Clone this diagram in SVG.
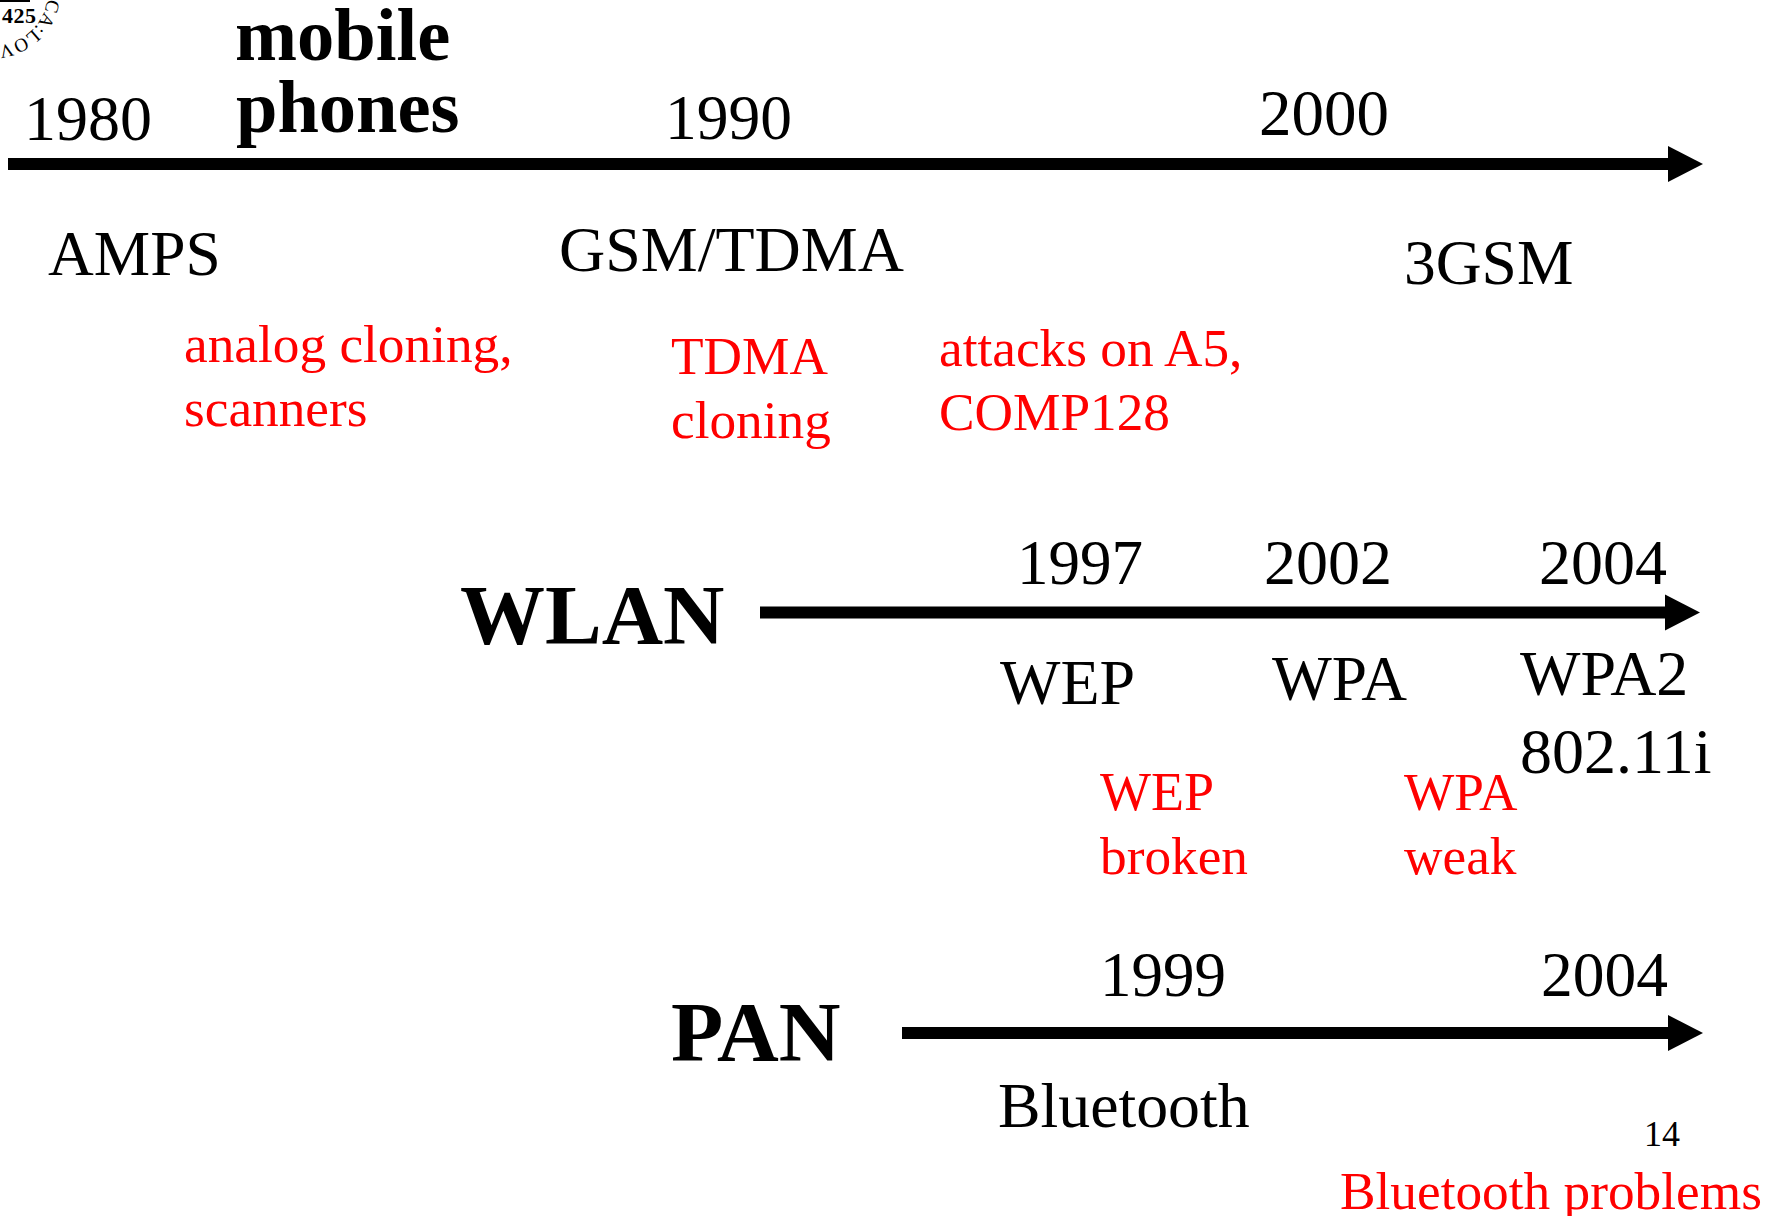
<svg xmlns="http://www.w3.org/2000/svg" width="1781" height="1216" viewBox="0 0 1781 1216">
<defs>
<style>
text{font-family:"Liberation Serif","Times New Roman",serif;fill:#000}
.y{font-size:64px}
.r{font-size:53.3px;fill:#f00}
.b{font-weight:bold}
.c{stroke:#000;stroke-width:12;fill:none}
.h{fill:#000;stroke:none}
</style>
<path id="sealpath" d="M 46 -22 A 54 54 0 0 1 -34 38"/>
</defs>
<rect width="1781" height="1216" fill="#fff"/>
<g id="seal">
<path d="M0 0H30V2H0Z" fill="#000"/>
<text x="2" y="23" font-size="22" letter-spacing="0.5" class="b">425</text>
<text font-size="19" letter-spacing="0.5"><textPath href="#sealpath" startOffset="14">ICA:LOVA</textPath></text>
</g>
<g id="connectors">
<path class="c" d="M8 164H1668"/><polygon class="h" points="1668,146 1703,164 1668,182"/>
<path class="c" d="M760 612.5H1665"/><polygon class="h" points="1665,594.5 1700,612.5 1665,630.5"/>
<path class="c" d="M902 1033H1668"/><polygon class="h" points="1668,1015 1703,1033 1668,1051"/>
</g>
<g id="labels">
<text class="b" x="235" y="60" font-size="74.5">mobile</text>
<text class="b" x="236" y="132" font-size="74.5">phones</text>
<text class="y" x="24" y="140">1980</text>
<text class="y" x="665" y="139" font-size="63.5" style="font-size:63.5px">1990</text>
<text class="y" x="1259" y="135" style="font-size:65px">2000</text>
<text class="y" x="48" y="275" style="font-size:63.4px">AMPS</text>
<text class="y" x="559" y="271">GSM/TDMA</text>
<text class="y" x="1404" y="284" style="font-size:63.5px">3GSM</text>
<text class="r" x="184" y="362">analog cloning,</text>
<text class="r" x="184" y="426">scanners</text>
<text class="r" x="671" y="374">TDMA</text>
<text class="r" x="671" y="438">cloning</text>
<text class="r" x="939" y="366">attacks on A5,</text>
<text class="r" x="939" y="430">COMP128</text>
<text class="b" x="460" y="644" font-size="85">WLAN</text>
<text class="y" x="1017" y="584" style="font-size:63px">1997</text>
<text class="y" x="1264" y="584">2002</text>
<text class="y" x="1539" y="584">2004</text>
<text class="y" x="1000" y="704">WEP</text>
<text class="y" x="1272" y="700" style="font-size:63.4px">WPA</text>
<text class="y" x="1520" y="695">WPA2</text>
<text class="y" x="1520" y="773">802.11i</text>
<text class="r" x="1100" y="810" style="font-size:54px">WEP</text>
<text class="r" x="1100" y="874">broken</text>
<text class="r" x="1404" y="810">WPA</text>
<text class="r" x="1404" y="874">weak</text>
<text class="b" x="671" y="1061" font-size="85.5">PAN</text>
<text class="y" x="1100" y="996" style="font-size:63px">1999</text>
<text class="y" x="1541" y="996" style="font-size:63.5px">2004</text>
<text class="y" x="998" y="1127" style="font-size:63.8px">Bluetooth</text>
<text x="1644" y="1146" font-size="36">14</text>
<text class="r" x="1340" y="1209">Bluetooth problems</text>
</g>
</svg>
